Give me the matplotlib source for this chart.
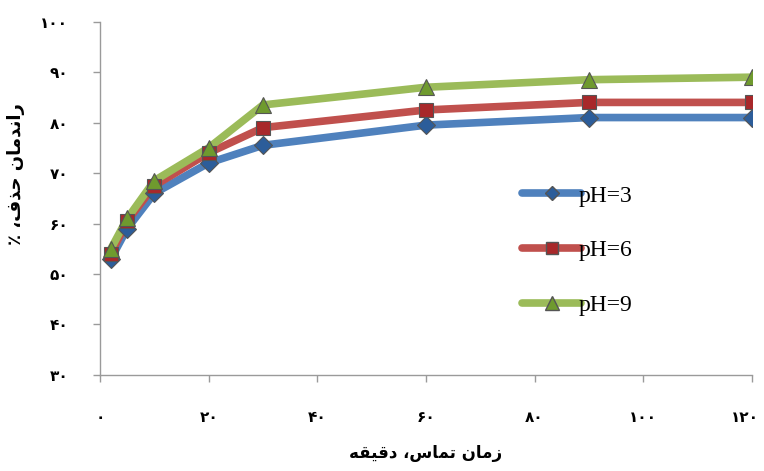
import matplotlib.pyplot as plt
from matplotlib.lines import Line2D
from matplotlib.transforms import ScaledTranslation

# contact time (min) and removal efficiency (%)
time_min = [2, 5, 10, 20, 30, 60, 90, 120]
ph3 = [53, 59, 66, 72, 75.5, 79.5, 81, 81]
ph6 = [54, 60.5, 67.5, 74, 79, 82.5, 84, 84]
ph9 = [55, 61, 68.5, 75, 83.5, 87, 88.5, 89]
series_labels = ["pH=3", "pH=6", "pH=9"]

x_ticks = [0, 20, 40, 60, 80, 100, 120]
y_ticks = [30, 40, 50, 60, 70, 80, 90, 100]

PERSIAN = str.maketrans("0123456789", "\u06f0\u06f1\u06f2\u06f3\u06f4\u06f5\u06f6\u06f7\u06f8\u06f9")

# pre-shaped Persian labels, stored in visual (left-to-right) order
xlabel_txt = ("\ufeea\ufed8\ufef4\ufed7\ufea9 \u060c\ufeb1\ufe8e\ufee4\ufe97 "
              "\ufee5\ufe8e\ufee3\ufeaf")
ylabel_txt = ("\u066a \u060c\ufed1\ufeac\ufea3 "
              "\ufee5\ufe8e\ufee3\ufeaa\ufee7\ufe8d\ufead")


def main():
    fig = plt.figure(figsize=(7.64, 4.71), dpi=100)
    ax = fig.add_axes([0.131, 0.204, 0.853, 0.750])

    styles = [
        (ph3, "#4f81bd", "D", "#2c5d9a", 9),
        (ph6, "#c0504d", "s", "#a8282a", 10),
        (ph9, "#9bbb59", "^", "#6f9a2e", 12),
    ]
    handles = []
    for (vals, col, mk, mcol, ms), lab in zip(styles, series_labels):
        ax.plot(time_min, vals, color=col, lw=5.5, solid_capstyle="round",
                zorder=2)
        ax.plot(time_min, vals, ls="none", marker=mk, ms=ms,
                markerfacecolor=mcol, markeredgecolor="#555555", mew=0.8,
                zorder=3)
        handles.append(Line2D([], [], color=col, lw=5.5, marker=mk,
                              ms=ms * 0.8, markerfacecolor=mcol,
                              markeredgecolor="#555555",
                              solid_capstyle="round"))

    ax.set_xlim(0, 120)
    ax.set_ylim(30, 100)
    ax.set_xticks(x_ticks)
    ax.set_yticks(y_ticks)
    ax.set_xticklabels([str(v).translate(PERSIAN) for v in x_ticks])
    ax.set_yticklabels([str(v).translate(PERSIAN) for v in y_ticks])

    for s in ["top", "right"]:
        ax.spines[s].set_visible(False)
    for s in ["left", "bottom"]:
        ax.spines[s].set_color("#9a9a9a")
        ax.spines[s].set_linewidth(1.0)
    ax.tick_params(axis="both", colors="#9a9a9a", length=5, width=1,
                   direction="out", labelcolor="black", labelsize=11)
    ax.tick_params(axis="x", pad=20)
    ax.tick_params(axis="y", pad=18)
    for t in ax.get_xticklabels() + ax.get_yticklabels():
        t.set_fontweight("bold")
    # keep the last x label inside the canvas
    last = ax.get_xticklabels()[-1]
    last.set_transform(last.get_transform()
                       + ScaledTranslation(-5 / 72, 0, fig.dpi_scale_trans))

    ax.set_xlabel(xlabel_txt, fontsize=12, fontweight="bold", labelpad=14,
                  family="DejaVu Sans")
    ax.set_ylabel(ylabel_txt, fontsize=13, fontweight="bold",
                  family="DejaVu Sans")
    ax.yaxis.set_label_coords(-0.115, 0.57)

    ax.legend(handles, series_labels, loc="center left",
              bbox_to_anchor=(0.615, 0.352), frameon=False, handlelength=2.5,
              handletextpad=-0.1, labelspacing=1.4,
              prop={"family": "Liberation Serif", "size": 17})

    fig.savefig("out.png", dpi=100)


if __name__ == "__main__":
    main()
